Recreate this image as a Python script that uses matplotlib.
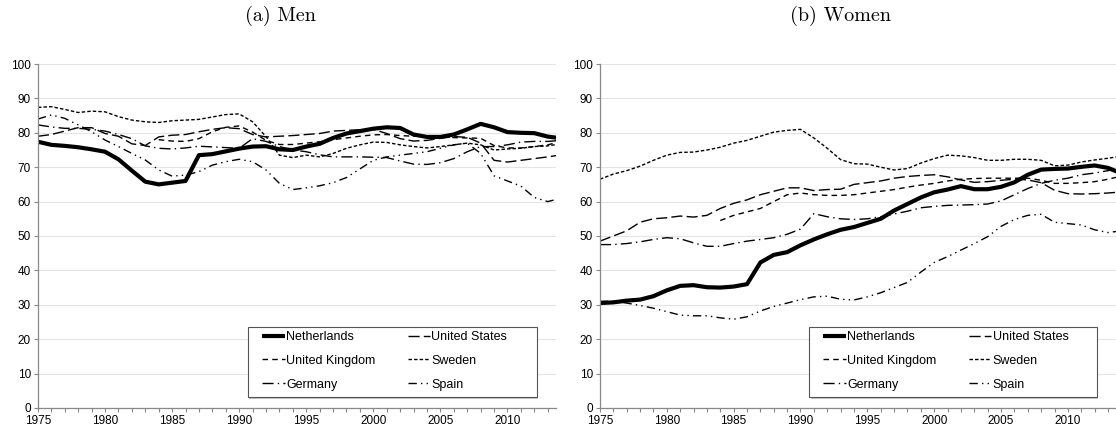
import matplotlib
matplotlib.use("Agg")
import matplotlib.pyplot as plt
from matplotlib.patches import Rectangle
import numpy as np

plt.rcParams['font.family'] = ['Liberation Sans', 'DejaVu Sans']

years = list(range(1975, 2015))

# employment rates, men
men_nl = [77.4, 76.5, 76.2, 75.8, 75.2, 74.5, 72.3, 69.0, 65.8, 65.0, 65.5, 66.0, 73.5, 73.8, 74.6, 75.4, 76.0, 76.1, 75.2, 75.0,
          76.0, 76.8, 78.5, 79.8, 80.5, 81.2, 81.6, 81.4, 79.5, 78.8, 78.8, 79.5, 81.0, 82.6, 81.6, 80.2, 80.0, 79.9, 78.9, 78.4]
men_us = [79.0, 79.5, 80.5, 81.5, 81.5, 79.8, 79.0, 76.8, 76.3, 78.8, 79.3, 79.5, 80.3, 81.0, 81.5, 81.2, 79.5, 78.8, 79.0, 79.2,
          79.5, 79.8, 80.5, 80.7, 80.9, 81.0, 79.8, 78.3, 77.6, 77.8, 78.4, 78.9, 78.7, 77.0, 72.0, 71.5, 72.0, 72.5, 73.0, 73.6]
men_uk = [None] * 9 + [78.0, 77.6, 77.5, 78.3, 80.3, 81.6, 82.0, 80.2, 77.8, 76.6, 76.6,
                       77.0, 77.4, 78.0, 78.5, 79.0, 79.4, 79.5, 79.2, 79.0, 79.0, 79.0, 78.6, 78.5, 78.4, 76.3, 75.6, 75.6, 76.0, 76.5, 77.5]
men_se = [87.4, 87.6, 86.8, 85.9, 86.3, 86.1, 84.7, 83.7, 83.2, 83.0, 83.5, 83.7, 83.9, 84.6, 85.3, 85.5, 83.2, 78.9, 73.5, 72.8,
          73.5, 73.0, 74.0, 75.5, 76.5, 77.3, 77.2, 76.5, 76.0, 75.6, 76.0, 76.5, 77.0, 76.5, 75.0, 75.3, 75.5, 76.0, 76.2, 76.8]
men_de = [82.3, 81.7, 81.3, 81.3, 81.0, 80.5, 79.5, 78.3, 76.2, 75.5, 75.3, 75.6, 76.1, 75.9, 75.7, 75.5, 78.3, 77.5, 76.0, 75.0,
          74.5, 73.6, 73.0, 73.0, 73.0, 72.9, 72.8, 71.8, 70.9, 70.8, 71.3, 72.5, 74.5, 76.0, 76.0, 76.5, 77.3, 77.5, 77.5, 77.8]
men_es = [84.0, 85.2, 84.2, 82.3, 80.3, 77.9, 76.0, 74.0, 72.1, 69.2, 67.4, 67.7, 68.7, 70.6, 71.6, 72.3, 71.6, 69.2, 65.3, 63.5,
          64.0, 64.6, 65.5, 67.0, 69.5, 72.0, 73.0, 73.5, 74.0, 74.5, 75.5, 76.5, 77.0, 74.0, 67.5, 66.0, 64.5, 61.2, 60.0, 61.0]

# employment rates, women
wom_nl = [30.5, 30.7, 31.2, 31.5, 32.5, 34.2, 35.5, 35.7, 35.1, 35.0, 35.3, 36.0, 42.3, 44.5, 45.3, 47.3, 49.0, 50.5, 51.8, 52.6,
          53.8, 55.0, 57.4, 59.3, 61.2, 62.7, 63.5, 64.5, 63.6, 63.6, 64.3, 65.6, 67.8, 69.3, 69.5, 69.6, 70.1, 70.5, 69.8, 68.2]
wom_us = [48.5, 50.0, 51.5, 54.0, 55.0, 55.3, 55.8, 55.5, 56.0, 58.0, 59.5, 60.5, 62.0, 63.0, 64.0, 64.0, 63.2, 63.5, 63.6, 65.0,
          65.5, 66.0, 66.8, 67.3, 67.6, 67.8, 67.2, 66.3, 65.6, 65.8, 66.2, 66.5, 66.3, 65.5, 63.3, 62.3, 62.2, 62.3, 62.5, 62.8]
wom_uk = [None] * 9 + [54.5, 56.0, 57.0, 58.0, 60.0, 62.0, 62.5, 62.0, 61.8, 61.8, 62.0,
                       62.5, 63.0, 63.5, 64.2, 64.8, 65.3, 66.0, 66.5, 66.7, 66.8, 66.8, 66.8, 66.8, 66.2, 65.3, 65.3, 65.5, 65.8, 66.5, 67.4]
wom_se = [66.5, 68.0, 69.0, 70.3, 72.0, 73.5, 74.3, 74.4, 75.0, 75.8, 77.0, 77.8, 79.0, 80.2, 80.7, 81.0, 78.5, 75.5, 72.2, 71.0,
          70.9, 70.0, 69.2, 69.6, 71.2, 72.5, 73.5, 73.3, 72.8, 72.0, 72.0, 72.3, 72.3, 72.0, 70.4, 70.6, 71.5, 72.1, 72.6, 73.2]
wom_de = [47.5, 47.5, 47.8, 48.3, 49.0, 49.5, 49.2, 48.0, 47.0, 47.0, 47.8, 48.5, 49.0, 49.5, 50.5, 52.0, 56.5, 55.6, 55.0, 54.8,
          55.0, 55.6, 56.4, 57.2, 58.2, 58.6, 58.9, 59.0, 59.1, 59.3, 60.2, 62.0, 63.8, 65.3, 66.2, 66.8, 67.8, 68.3, 69.0, 69.5]
wom_es = [31.0, 31.0, 30.5, 29.8, 29.0, 28.0, 27.0, 26.8, 26.8, 26.2, 25.8, 26.5, 28.2, 29.5, 30.5, 31.5, 32.3, 32.5, 31.6, 31.4,
          32.3, 33.5, 35.0, 36.5, 39.5, 42.3, 44.0, 45.9, 47.8, 49.8, 52.8, 54.8, 56.0, 56.3, 54.0, 53.6, 53.2, 51.8, 51.0, 51.5]

countries = ["Netherlands", "United States", "United Kingdom", "Sweden", "Germany", "Spain"]
men = [men_nl, men_us, men_uk, men_se, men_de, men_es]
women = [wom_nl, wom_us, wom_uk, wom_se, wom_de, wom_es]

styles = [
    dict(lw=3.0, ls='-'),
    dict(lw=1.0, ls=(0, (8, 3))),
    dict(lw=1.0, ls=(0, (4, 3))),
    dict(lw=1.0, ls=(0, (2.5, 1.5))),
    dict(lw=1.0, ls=(0, (8, 3, 1, 3))),
    dict(lw=1.0, ls=(0, (6, 3, 1, 3, 1, 3))),
]

# legend is filled row by row: NL, US / UK, SE / DE, ES
legend_order = [0, 2, 4, 1, 3, 5]


def draw_panel(ax, data):
    lines = []
    for name, vals, st in zip(countries, data, styles):
        v = np.array([np.nan if x is None else x for x in vals], dtype=float)
        ln, = ax.plot(years, v, color='black', label=name, solid_capstyle='butt', **st)
        lines.append(ln)

    ax.set_xlim(1975, 2013.6)
    ax.set_ylim(0, 100)
    ax.set_yticks(range(0, 101, 10))
    ax.set_xticks(range(1975, 2014, 5))
    ax.set_xticks(range(1975, 2014), minor=True)
    ax.grid(axis='y', color='#e4e4e4', lw=0.8)
    ax.set_axisbelow(True)
    for s in ['top', 'right']:
        ax.spines[s].set_visible(False)
    for s in ['left', 'bottom']:
        ax.spines[s].set_color('#888888')
        ax.spines[s].set_linewidth(0.9)
    ax.tick_params(axis='both', which='both', colors='#888888', labelcolor='black',
                   labelsize=8.5, length=3, width=0.8, pad=2)

    # legend box drawn by hand (wider side padding than matplotlib gives)
    ax.add_patch(Rectangle((0.408, 0.027), 0.558, 0.2035, transform=ax.transAxes,
                           facecolor='#c4c4c4', edgecolor='none', zorder=4))
    ax.add_patch(Rectangle((0.405, 0.032), 0.558, 0.2035, transform=ax.transAxes,
                           facecolor='white', edgecolor='#555555', lw=0.8, zorder=5))

    hs = [lines[i] for i in legend_order]
    leg = ax.legend(hs, [countries[i] for i in legend_order], ncol=2, loc='upper left',
                    bbox_to_anchor=(0.433, 0.224), frameon=False,
                    fontsize=9, handlelength=1.8, handletextpad=0.1,
                    labelspacing=0.95, columnspacing=2.6, borderpad=0,
                    borderaxespad=0)
    leg.set_zorder(6)


fig = plt.figure(figsize=(11.16, 4.34), dpi=100)
ax1 = fig.add_axes([0.034, 0.060, 0.464, 0.7925])
ax2 = fig.add_axes([0.5376, 0.060, 0.4624, 0.7925])

draw_panel(ax1, men)
draw_panel(ax2, women)

fig.text(0.251, 0.963, "(a) Men", family='cmr10', fontsize=14.5, ha='center', va='center')
fig.text(0.753, 0.963, "(b) Women", family='cmr10', fontsize=14.5, ha='center', va='center')

fig.savefig("out.png", dpi=100)
